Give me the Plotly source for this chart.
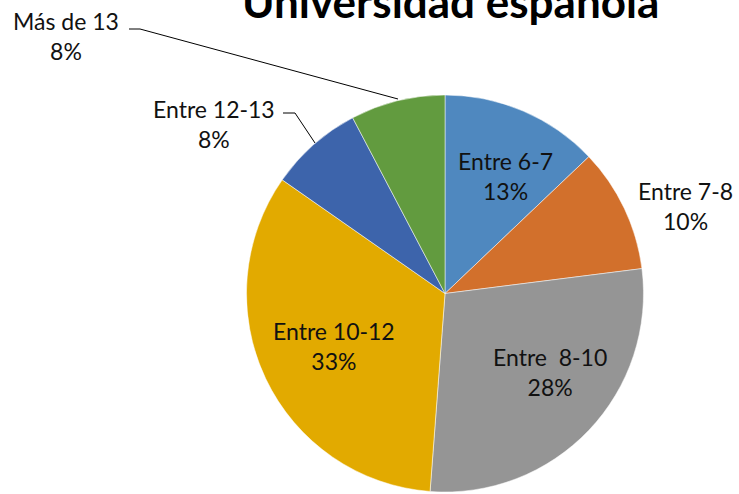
import plotly.graph_objects as go

# Data
categories = ["Entre 6-7", "Entre 7-8", "Entre  8-10", "Entre 10-12", "Entre 12-13", "Más de 13"]
values = [12.9, 10.1, 28.2, 33.5, 7.6, 7.7]          # slice sizes as drawn
pct_labels = [13, 10, 28, 33, 8, 8]                  # percentages as printed
colors = ["#4F88BF", "#D2702C", "#959595", "#E2AA00", "#3D64AB", "#629B3F"]

W, H = 739, 494
cx, cy, r = 445, 293.5, 198.5

fig = go.Figure(go.Pie(
    labels=categories, values=values, sort=False, direction="clockwise",
    rotation=0, textinfo="none", hoverinfo="label+percent",
    marker=dict(colors=colors, line=dict(color="white", width=0.5)),
    domain=dict(x=[(cx - r) / W, (cx + r) / W], y=[(H - cy - r) / H, (H - cy + r) / H]),
    showlegend=False,
))

# label positions in pixels (center of the two-line label)
label_pos = [(505, 176), (685, 206), (550, 372), (334, 346), (214, 124), (66, 36)]
font = dict(family="Lato, Open Sans, sans-serif", size=23, color="#111111")
annotations = []
for cat, pct, (px, py) in zip(categories, pct_labels, label_pos):
    annotations.append(dict(
        x=px / W, y=1 - py / H, xref="paper", yref="paper",
        text=f"{cat}<br>{pct}%", showarrow=False, font=font,
        xanchor="center", yanchor="middle", align="center",
    ))
annotations.append(dict(
    x=451 / W, y=1 - 1 / H, xref="paper", yref="paper",
    text="<b>Universidad española</b>", showarrow=False,
    font=dict(family="Lato, Open Sans, sans-serif", size=44, color="#000000"),
    xanchor="center", yanchor="middle",
))

def seg(x0, y0, x1, y1):
    return dict(type="line", xref="paper", yref="paper",
                x0=x0 / W, y0=1 - y0 / H, x1=x1 / W, y1=1 - y1 / H,
                line=dict(color="black", width=1))

shapes = [
    seg(129, 29, 140, 29), seg(140, 29, 398, 99),
    seg(283, 113, 295, 113), seg(295, 113, 315, 143),
]

fig.update_layout(
    width=W, height=H, margin=dict(l=0, r=0, t=0, b=0),
    paper_bgcolor="white", plot_bgcolor="white",
    annotations=annotations, shapes=shapes,
)
fig.write_html("out.html")
